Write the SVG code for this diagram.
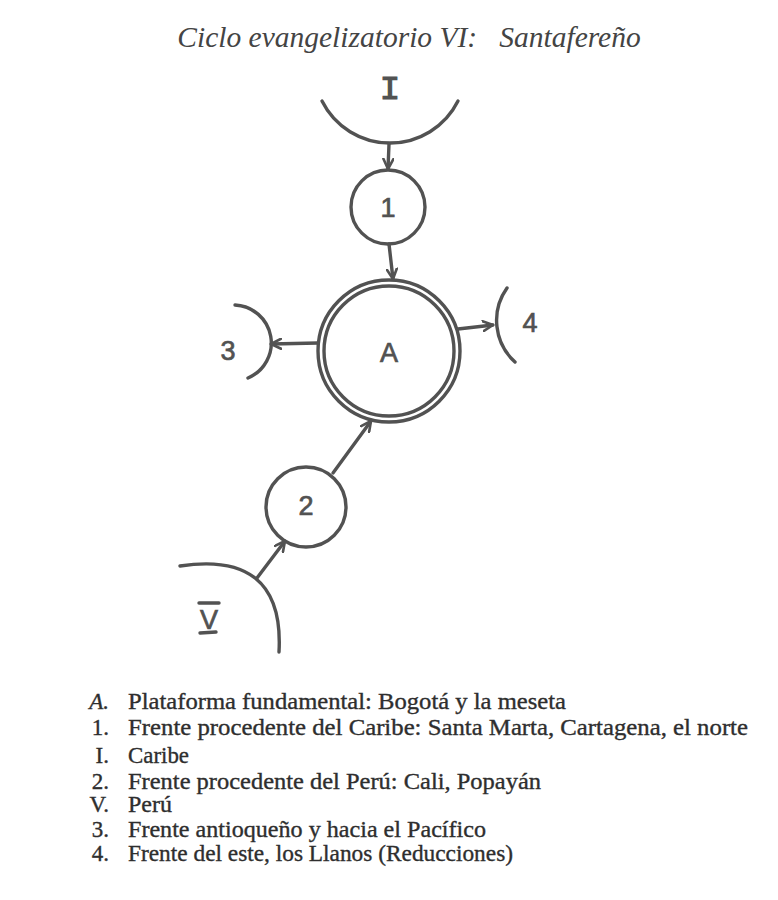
<svg xmlns="http://www.w3.org/2000/svg" width="778" height="900" viewBox="0 0 778 900">
<defs>
<style>
.ln{fill:none;stroke:#525252;stroke-width:3.4;stroke-linecap:round}
.hw{font-family:"Liberation Sans","DejaVu Sans",sans-serif;font-size:27px;fill:#525252;stroke:#525252;stroke-width:0.7;text-anchor:middle}
.lg{font-family:"Liberation Serif","Times New Roman",serif;font-size:23px;fill:#2e2e2e;stroke:#2e2e2e;stroke-width:0.35}
.lb{text-anchor:end}
</style>
<marker id="ar" viewBox="0 0 12 12" refX="11" refY="6" markerWidth="12" markerHeight="12" markerUnits="userSpaceOnUse" orient="auto">
<path d="M1,1 L11,6 L1,11" fill="none" stroke="#525252" stroke-width="2.6" stroke-linecap="round" stroke-linejoin="round"/>
</marker>
</defs>
<rect width="778" height="900" fill="#ffffff"/>
<text x="409" y="47" font-family="'Liberation Serif','Times New Roman',serif" font-style="italic" font-size="29.5" fill="#444" text-anchor="middle" xml:space="preserve">Ciclo evangelizatorio VI:   Santafereño</text>

<g id="nodeI">
<path class="ln" d="M322,101 A76,76 0 0 0 458,101"/>
<text x="390" y="99" font-family="'Liberation Mono','Courier New',monospace" font-size="34" fill="#525252" stroke="#525252" stroke-width="1.2" text-anchor="middle">I</text>
</g>
<g id="node1">
<circle class="ln" cx="388" cy="207" r="37"/>
<text class="hw" x="388" y="217">1</text>
</g>
<g id="nodeA">
<circle class="ln" cx="389" cy="351" r="71"/>
<circle class="ln" cx="389" cy="351" r="65"/>
<text class="hw" x="389" y="362">A</text>
</g>
<g id="node3">
<path class="ln" d="M235,305 A38,38 0 0 1 248,378"/>
<text class="hw" x="228" y="360">3</text>
</g>
<g id="node4">
<path class="ln" d="M507,288 A56,56 0 0 0 515,362"/>
<text class="hw" x="530" y="332">4</text>
</g>
<g id="node2">
<circle class="ln" cx="306" cy="507" r="40"/>
<text class="hw" x="306" y="515">2</text>
</g>
<g id="nodeV">
<path class="ln" d="M180,566 C245,556 283,580 279,652"/>
<text class="hw" x="209" y="629">V</text>
<line class="ln" x1="199" y1="603" x2="219" y2="603"/>
<line class="ln" x1="200" y1="633" x2="216" y2="632"/>
</g>

<g id="connectors">
<line class="ln" x1="389" y1="144" x2="388" y2="169" marker-end="url(#ar)"/>
<line class="ln" x1="389" y1="244" x2="393" y2="279" marker-end="url(#ar)"/>
<line class="ln" x1="318" y1="343" x2="271" y2="344" marker-end="url(#ar)"/>
<line class="ln" x1="458" y1="329" x2="493" y2="325" marker-end="url(#ar)"/>
<line class="ln" x1="333" y1="473" x2="371" y2="421" marker-end="url(#ar)"/>
<line class="ln" x1="257" y1="578" x2="285" y2="541" marker-end="url(#ar)"/>
</g>

<g id="legend">
<text class="lg lb" x="109" y="709" font-style="italic">A.</text>
<text class="lg" x="128" y="709" textLength="438" lengthAdjust="spacingAndGlyphs">Plataforma fundamental: Bogotá y la meseta</text>
<text class="lg lb" x="109" y="735">1.</text>
<text class="lg" x="128" y="735" textLength="620" lengthAdjust="spacingAndGlyphs">Frente procedente del Caribe: Santa Marta, Cartagena, el norte</text>
<text class="lg lb" x="109" y="763">I.</text>
<text class="lg" x="128" y="763" textLength="61" lengthAdjust="spacingAndGlyphs">Caribe</text>
<text class="lg lb" x="109" y="789">2.</text>
<text class="lg" x="128" y="789" textLength="413" lengthAdjust="spacingAndGlyphs">Frente procedente del Perú: Cali, Popayán</text>
<text class="lg lb" x="109" y="812">V.</text>
<text class="lg" x="128" y="812" textLength="44" lengthAdjust="spacingAndGlyphs">Perú</text>
<text class="lg lb" x="109" y="837">3.</text>
<text class="lg" x="128" y="837" textLength="358" lengthAdjust="spacingAndGlyphs">Frente antioqueño y hacia el Pacífico</text>
<text class="lg lb" x="109" y="861">4.</text>
<text class="lg" x="128" y="861" textLength="385" lengthAdjust="spacingAndGlyphs">Frente del este, los Llanos (Reducciones)</text>
</g>
</svg>
